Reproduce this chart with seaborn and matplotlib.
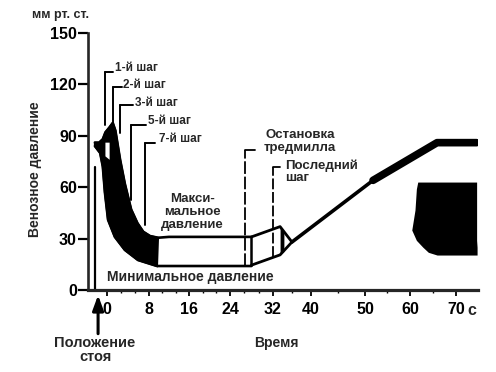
import numpy as np
import pandas as pd
import matplotlib
matplotlib.use("Agg")
import matplotlib.pyplot as plt
import seaborn as sns

# ---------------- data ----------------
# upper envelope of the venous-pressure trace (time s, mmHg)
max_t = [-2.3, -1.5, -0.8, -0.3, 0.5, 1.1, 1.6, 2.5, 3.4, 4.6, 5.8, 6.9, 8.2, 9.8, 12.0, 28.0]
max_p = [86, 86, 88, 92, 95, 97.5, 93, 76, 62, 47, 39, 34, 31.5, 30.5, 31, 31]
# lower envelope
min_t = [-2.3, -1.3, -0.8, -0.4, 0.2, 1.5, 3.4, 5.9, 9.6, 12.0, 28.0]
min_p = [84, 80, 72, 57, 41, 31, 23.4, 17.5, 14, 14, 14]
# end of the dense (black) part of the trace
dense_end_t = 9.8

# treadmill-stop shape
stop_up_t = [28.0, 33.5, 36.0]
stop_up_p = [31, 37, 28]
stop_lo_t = [28.0, 33.5, 36.0]
stop_lo_p = [14.5, 20.5, 28]
stop_edge_t = [28.0, 28.0]
stop_edge_p = [14.5, 31]
wedge_t = [33.5, 34.3]
wedge_up = [37, 34.5]
wedge_lo = [20.5, 22.5]

# recovery after walking
rise_t = [36.0, 51.8]
rise_p = [28, 64]
late_t = [51.8, 65.9, 74.5]
late_p = [64, 86, 86]

# dark blob on the right
blob_p = [63, 59, 46.7, 35, 29, 25, 22, 20.4]
blob_left_t = [61.7, 61.4, 61.1, 60.4, 61.4, 62.8, 64.0, 65.9]
blob_right_t = [74.5, 74.5, 74.5, 74.5, 74.5, 74.6, 74.6, 74.6]

# small white notch in the dense part
notch_t = [-0.3, 0.5, 0.5, -0.3]
notch_p = [86, 86, 76, 78]

# step annotations
step_labels = ["1-й шаг", "2-й шаг", "3-й шаг", "5-й шаг", "7-й шаг"]
step_t = [-0.3, 1.1, 2.5, 4.6, 7.2]
step_top = [127, 118.5, 108, 96.3, 85.8]
step_bot = [96.3, 97.5, 91.6, 52.5, 38]
step_hend = [1.1, 2.9, 5.0, 7.5, 9.2]
step_text_t = [1.6, 3.1, 5.4, 7.9, 10.0]
step_text_p = [129.6, 119.7, 109.2, 98.7, 88.1]

# event markers
stand_t = -2.3
stand_p = [0, 72]
stop_mark_t = 26.8
stop_mark_p = [14, 81.7]
last_mark_t = 32.0
last_mark_p = [19, 72]

x_ticks = [0, 8, 16, 24, 32, 40, 50, 60, 70]
x_minor = [8/3, 16/3, 32/3, 40/3, 56/3, 64/3, 80/3, 88/3, 36, 45, 55, 65]
y_ticks = [0, 30, 60, 90, 120, 150]

# piecewise time scale of the original drawing
T_KNOTS = [-20, 0, 8, 16, 24, 32, 40, 50, 60, 70, 100]
U_KNOTS = [2, 107, 149, 189, 230, 273, 311, 365, 410, 456, 594]

# ---------------- figure ----------------
sns.set_style("ticks")
plt.rcParams["font.family"] = ["Liberation Sans", "DejaVu Sans"]
plt.rcParams["font.weight"] = "bold"

fig = plt.figure(figsize=(4.96, 3.72), dpi=100)
ax = fig.add_axes([88/496, 1-290/372, 390/496, 257/372])

K = "black"

# dense part of the trace (filled)
mt = np.array(max_t); mp = np.array(max_p)
nt = np.array(min_t); np_ = np.array(min_p)
sel_u = mt <= dense_end_t
sel_l = nt <= dense_end_t
ax.fill(np.r_[mt[sel_u], nt[sel_l][::-1]], np.r_[mp[sel_u], np_[sel_l][::-1]],
        color=K, lw=1.5, ec=K)
ax.fill(notch_t, notch_p, color="white", lw=0)

# envelopes
sns.lineplot(x=max_t, y=max_p, sort=False, estimator=None, color=K, lw=1.9, ax=ax)
sns.lineplot(x=min_t, y=min_p, sort=False, estimator=None, color=K, lw=1.9, ax=ax)

# treadmill-stop shape
sns.lineplot(x=stop_up_t, y=stop_up_p, sort=False, estimator=None, color=K, lw=2.0, ax=ax)
sns.lineplot(x=stop_lo_t, y=stop_lo_p, sort=False, estimator=None, color=K, lw=2.0, ax=ax)
sns.lineplot(x=stop_edge_t, y=stop_edge_p, sort=False, estimator=None, color=K, lw=1.8, ax=ax)
ax.fill_between(wedge_t, wedge_lo, wedge_up, color=K, lw=0)

# recovery line
sns.lineplot(x=rise_t, y=rise_p, sort=False, estimator=None, color=K, lw=2.6, ax=ax)
sns.lineplot(x=late_t, y=late_p, sort=False, estimator=None, color=K, lw=5.5, ax=ax)
ax.lines[-1].set_solid_capstyle("round")

# dark blob
ax.fill_betweenx(blob_p, blob_left_t, blob_right_t, color=K, lw=0)

# standing marker line
sns.lineplot(x=[stand_t, stand_t], y=stand_p, sort=False, estimator=None, color=K, lw=1.6, ax=ax)

# event markers
ax.plot([stop_mark_t, stop_mark_t], stop_mark_p, color=K, lw=1.3, ls=(0, (7, 1.5)))
ax.plot([stop_mark_t, 28.7], [stop_mark_p[1]] * 2, color=K, lw=1.3)
ax.plot([last_mark_t, last_mark_t], last_mark_p, color=K, lw=1.3, ls=(0, (6, 1.5)))
ax.plot([last_mark_t, 33.5], [last_mark_p[1]] * 2, color=K, lw=1.3)

# step leaders and labels
for lab, t, top, bot, he, tx, ty in zip(step_labels, step_t, step_top, step_bot,
                                        step_hend, step_text_t, step_text_p):
    ax.plot([t, t], [bot, top], color=K, lw=1.4)
    ax.plot([t, he], [top, top], color=K, lw=1.4)
    ax.text(tx, ty, lab, ha="left", va="center", fontsize=8.5, fontweight="bold")

ax.text(16.6, 45.5, "Макси-\nмальное\nдавление", ha="center", va="center",
        fontsize=9.5, fontweight="bold", linespacing=1.1)
ax.text(16.2, 7.6, "Минимальное давление", ha="center", va="center",
        fontsize=10, fontweight="bold")
ax.text(37.7, 86.8, "Остановка\nтредмилла", ha="center", va="center",
        fontsize=9.5, fontweight="bold", linespacing=1.15)
ax.text(34.5, 69.0, "Последний\nшаг", ha="left", va="center",
        fontsize=9.5, fontweight="bold", linespacing=1.1)

# axes
ax.set_xscale("function",
              functions=(lambda t: np.interp(t, T_KNOTS, U_KNOTS),
                         lambda u: np.interp(u, U_KNOTS, T_KNOTS)))
ax.set_xlim(-3.62, 74.8)
ax.set_ylim(0, 150)
ax.set_xticks(x_ticks)
ax.set_xticks(x_minor, minor=True)
ax.set_xticklabels([str(v) for v in x_ticks], fontsize=11.5, fontweight="bold")
ax.set_yticks(y_ticks)
ax.set_yticklabels([str(v) for v in y_ticks], fontsize=11.5, fontweight="bold")
sns.despine(ax=ax)
ax.spines["left"].set_linewidth(1.9)
ax.spines["bottom"].set_linewidth(2.3)
ax.tick_params(axis="y", direction="out", length=7, width=1.6, pad=1, colors=K)
ax.tick_params(axis="x", which="major", direction="out", length=4, width=1.3, pad=5, colors=K)
ax.tick_params(axis="x", which="minor", direction="out", length=2.5, width=1.0, colors=K)

ax.set_ylabel("Венозное давление", fontsize=10, fontweight="bold")
ax.yaxis.label.set_ha("center"); ax.yaxis.label.set_va("center")
ax.yaxis.set_label_coords(-0.136, 0.47)
ax.set_xlabel("Время", fontsize=10, fontweight="bold")
ax.xaxis.label.set_va("center")
ax.xaxis.set_label_coords(0.482, -0.206)

ax.text(-0.1436, 1.07, "мм рт. ст.", transform=ax.transAxes, ha="left", va="center",
        fontsize=9, fontweight="bold")
ax.text(0.018, -0.233, "Положение\nстоя", transform=ax.transAxes, ha="center", va="center",
        fontsize=10.5, fontweight="bold", linespacing=1.0)
trans = matplotlib.transforms.blended_transform_factory(ax.transData, ax.transAxes)
ax.text(73.5, -0.078, "c", transform=trans, ha="center", va="center",
        fontsize=11.5, fontweight="bold")
ax.annotate("", xy=(-1.7, -0.02), xycoords=trans, xytext=(-1.7, -0.17), textcoords=trans,
            arrowprops=dict(arrowstyle="-|>,head_length=0.6,head_width=0.22", lw=2.2,
                            color=K, mutation_scale=15, shrinkA=0, shrinkB=0),
            annotation_clip=False)

fig.savefig("out.png", dpi=100, facecolor="white")
